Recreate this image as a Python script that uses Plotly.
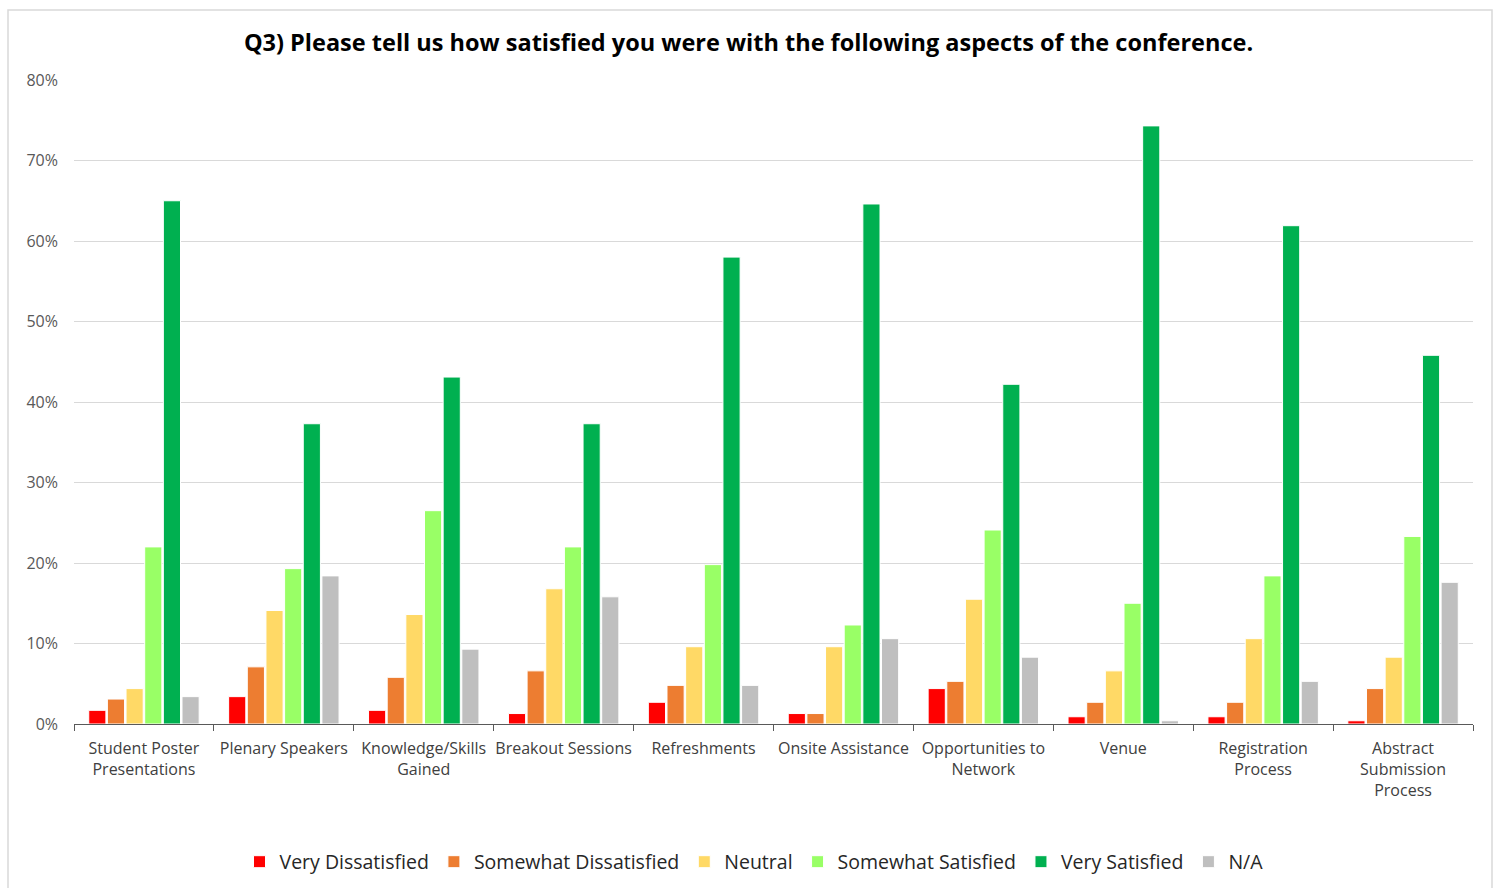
import plotly.graph_objects as go

categories = [
    "Student Poster<br>Presentations",
    "Plenary Speakers",
    "Knowledge/Skills<br>Gained",
    "Breakout Sessions",
    "Refreshments",
    "Onsite Assistance",
    "Opportunities to<br>Network",
    "Venue",
    "Registration<br>Process",
    "Abstract<br>Submission<br>Process",
]

very_dissatisfied = [1.7, 3.4, 1.7, 1.3, 2.7, 1.3, 4.4, 0.9, 0.9, 0.4]
somewhat_dissatisfied = [3.1, 7.1, 5.8, 6.6, 4.8, 1.3, 5.3, 2.7, 2.7, 4.4]
neutral = [4.4, 14.1, 13.6, 16.8, 9.6, 9.6, 15.5, 6.6, 10.6, 8.3]
somewhat_satisfied = [22.0, 19.3, 26.5, 22.0, 19.8, 12.3, 24.1, 15.0, 18.4, 23.3]
very_satisfied = [65.0, 37.3, 43.1, 37.3, 58.0, 64.6, 42.2, 74.3, 61.9, 45.8]
not_applicable = [3.4, 18.4, 9.3, 15.8, 4.8, 10.6, 8.3, 0.4, 5.3, 17.6]

series = [
    ("Very Dissatisfied", very_dissatisfied, "#FF0000"),
    ("Somewhat Dissatisfied", somewhat_dissatisfied, "#ED7D31"),
    ("Neutral", neutral, "#FFD966"),
    ("Somewhat Satisfied", somewhat_satisfied, "#99FF66"),
    ("Very Satisfied", very_satisfied, "#00B050"),
    ("N/A", not_applicable, "#BFBFBF"),
]

FONT = "'Open Sans', Calibri, Carlito, sans-serif"

fig = go.Figure()
for name, vals, color in series:
    fig.add_trace(go.Bar(
        name=name,
        x=categories,
        y=[v / 100 for v in vals],
        marker=dict(color=color, line=dict(color="white", width=1)),
    ))

BASE = 724
PLOT_H = 888 - 80 - 164
fig.update_layout(
    width=1497,
    height=888,
    barmode="group",
    bargap=0.2,
    bargroupgap=0.08,
    plot_bgcolor="white",
    paper_bgcolor="white",
    margin=dict(l=74, r=24, t=80, b=164, autoexpand=False),
    title=dict(
        text="<b>Q3) Please tell us how satisfied you were with the following aspects of the conference.</b>",
        x=0.5,
        xanchor="center",
        y=1 - 43 / 888,
        yanchor="middle",
        font=dict(family=FONT, size=23.5, color="#000000"),
    ),
    font=dict(family=FONT, color="#404040"),
    legend=dict(
        orientation="h",
        x=(754 - 74) / 1399,
        xanchor="center",
        y=(BASE - 862) / PLOT_H,
        yanchor="middle",
        font=dict(family=FONT, size=19.5, color="#262626"),
        itemwidth=30,
        traceorder="normal",
    ),
    showlegend=True,
)

fig.update_yaxes(
    range=[0, 0.8],
    dtick=0.1,
    tickformat=".0%",
    showgrid=True,
    gridcolor="#D9D9D9",
    gridwidth=1,
    zeroline=False,
    showline=False,
    ticks="",
    tickfont=dict(family=FONT, size=16, color="#595959"),
    ticklabelstandoff=15,
    automargin=False,
)

fig.update_xaxes(
    showline=True,
    linecolor="#595959",
    linewidth=1,
    ticks="outside",
    tickson="boundaries",
    ticklen=6,
    tickcolor="#595959",
    tickangle=0,
    tickfont=dict(family=FONT, size=16, color="#404040"),
    ticklabelstandoff=10,
    showgrid=False,
    automargin=False,
)

fig.add_shape(
    type="rect",
    xref="paper", yref="paper",
    x0=(8 - 74) / 1399, x1=(1492 - 74) / 1399,
    y0=(BASE - 900) / PLOT_H, y1=(BASE - 10) / PLOT_H,
    line=dict(color="#D9D9D9", width=1.5),
    fillcolor="rgba(0,0,0,0)",
    layer="below",
)

fig.write_html(
    "out.html",
    config={"displayModeBar": False},
    post_script="document.body.style.margin='0';",
)
